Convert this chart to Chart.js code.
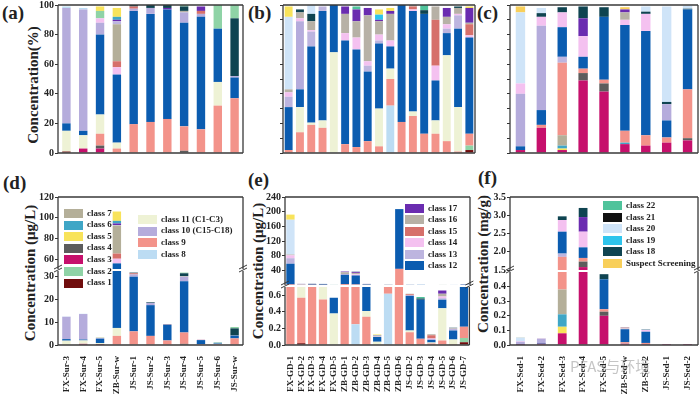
<!DOCTYPE html>
<html>
<head>
<meta charset="utf-8">
<script src="https://cdn.jsdelivr.net/npm/chart.js@4.4.1/dist/chart.umd.min.js"></script>
<style>
  body { margin: 0; width: 700px; height: 396px; position: relative; overflow: hidden; background: #fff;
         font-family: 'Liberation Serif', 'Times New Roman', serif; font-weight: bold; color: #222; }
  canvas { position: absolute; }
  .panel { position: absolute; font-size: 19px; line-height: 19px; }
  .ytitle { position: absolute; white-space: nowrap; font-size: 15px; line-height: 15px; transform: translate(-50%, -50%) rotate(-90deg); }
  .leg { position: absolute; font-size: 9px; white-space: nowrap; }
  .leg i { display: inline-block; width: 19px; height: 9px; margin-right: 4px; vertical-align: middle; }
  .leg span { vertical-align: middle; }
  .mark { position: absolute; font-family: 'Noto Sans CJK SC', sans-serif; font-weight: normal; font-size: 15px; color: rgba(150,150,150,0.55); }
</style>
</head>
<body>
<div class="panel" style="left:2px;top:3px">(a)</div>
<div class="panel" style="left:248px;top:3px">(b)</div>
<div class="panel" style="left:477px;top:3px">(c)</div>
<div class="panel" style="left:3px;top:173px">(d)</div>
<div class="panel" style="left:248px;top:170px">(e)</div>
<div class="panel" style="left:478px;top:168px">(f)</div>
<div class="ytitle" style="left:33px;top:85px">Concentration(%)</div>
<div class="ytitle" style="left:30px;top:273px">Concentration (μg/L)</div>
<div class="ytitle" style="left:258px;top:271px">Concentration (μg/L)</div>
<div class="ytitle" style="left:483px;top:264px">Concentration (mg/g)</div>
<script>
// sample names
const surSamples = ['FX-Sur-3', 'FX-Sur-4', 'FX-Sur-5', 'ZB-Sur-w', 'JS-Sur-1', 'JS-Sur-2', 'JS-Sur-3', 'JS-Sur-4', 'JS-Sur-5', 'JS-Sur-6', 'JS-Sur-w'];
const gdSamples = ['FX-GD-1', 'FX-GD-2', 'FX-GD-3', 'FX-GD-4', 'FX-GD-5', 'ZB-GD-1', 'ZB-GD-2', 'ZB-GD-3', 'ZB-GD-4', 'ZB-GD-5', 'ZB-GD-6', 'JS-GD-2', 'JS-GD-3', 'JS-GD-4', 'JS-GD-5', 'JS-GD-6', 'JS-GD-7'];
const sedSamples = ['FX-Sed-1', 'FX-Sed-2', 'FX-Sed-3', 'FX-Sed-4', 'FX-Sed-5', 'ZB-Sed-w', 'ZB-Sed-2', 'JS-Sed-1', 'JS-Sed-2'];

// stacking order (bottom -> top), rows of the tables below follow it
const surOrder = ['class 1', 'class 3', 'class 4', 'class 9', 'class 11', 'class 12', 'class 10', 'class 14', 'class 15', 'class 7', 'class 13', 'class 16', 'class 17', 'class 18', 'class 6', 'class 2', 'class 5', 'class 8'];
const gdOrder = ['class 1', 'class 2', 'class 8', 'class 9', 'class 11', 'class 12', 'class 10', 'class 13', 'class 14', 'class 15', 'class 16', 'class 18', 'class 20', 'class 17', 'class 19', 'class 5', 'class 22'];
const sedOrder = ['class 3', 'class 4', 'class 5', 'class 6', 'class 7', 'class 9', 'class 13', 'class 12', 'class 10', 'class 14', 'class 16', 'class 17', 'class 18', 'class 20', 'Suspect Screening'];

// (a) surface water, %
const aPct = [
  [1, 0, 0, 0, 0, 0, 0, 0, 0, 0, 0],
  [0, 3, 3, 0, 0, 0, 0, 0, 0, 0, 0],
  [0, 0, 2, 0, 0, 0, 0, 1.5, 0, 0, 0],
  [0, 0, 8, 3, 19.5, 21, 23, 16.5, 16, 32, 37],
  [14, 9, 13, 4, 0, 0, 0, 0, 0, 16, 0],
  [5, 3, 54, 46, 76.5, 73, 74, 70, 76, 36, 14],
  [78, 82, 8, 0, 1.5, 4, 0, 7, 2, 0, 1],
  [0, 0, 3, 5, 0, 0, 0, 0, 0, 0, 0],
  [0, 0, 0, 4, 1.5, 0, 0, 0, 2, 0, 0],
  [0, 0, 0, 25, 0, 0, 0, 0, 0, 0, 0],
  [0, 0, 0, 2, 0, 0, 0, 0, 0, 0, 0],
  [0, 0, 0, 0, 0, 0, 0, 1, 0, 0, 0],
  [0, 0, 0, 1, 0, 0, 1, 0, 3, 0, 0],
  [0, 0, 0, 0, 1, 2, 2, 3, 0, 0, 39],
  [0, 0, 0, 2, 0, 0, 0, 0, 0, 0, 0],
  [0, 0, 5, 0, 0, 0, 0, 1, 0, 16, 9],
  [0, 0, 3, 6, 0, 0, 0, 0, 0, 0, 0],
  [1, 1, 0, 0, 0, 0, 0, 0, 0, 0, 0]
];
// (d) surface water, μg/L
const dConc = [
  [0, 0, 0, 0, 0, 0, 0, 0, 0, 0, 0],
  [0, 0.5, 0.1, 0, 0, 0, 0, 0, 0, 0, 0],
  [0, 0, 0.07, 0, 0, 0, 0, 0.5, 0, 0, 0],
  [0, 0, 0.25, 4, 6, 4, 2, 5, 0.35, 0.35, 2.9],
  [1.9, 1.5, 0.45, 3.5, 0, 0, 0, 0, 0, 0.2, 0],
  [0.7, 0.4, 1.9, 48.5, 24, 13.5, 6.8, 22.5, 1.8, 0.4, 1.2],
  [9.8, 11.2, 0.3, 0, 1, 1, 0, 2, 0.05, 0, 0.1],
  [0, 0, 0.1, 4.5, 0, 0, 0, 0, 0, 0, 0],
  [0, 0, 0, 5, 0.5, 0, 0, 0, 0.05, 0, 0],
  [0, 0, 0, 27, 0, 0, 0, 0, 0, 0, 0],
  [0, 0, 0, 0.5, 0, 0, 0, 0, 0, 0, 0],
  [0, 0, 0, 0, 0, 0, 0, 0.3, 0, 0, 0],
  [0, 0, 0, 1.5, 0, 0, 0.1, 0, 0.05, 0, 0],
  [0, 0, 0, 0, 0.3, 0.3, 0.15, 1.2, 0, 0, 3.1],
  [0, 0, 0, 2.5, 0, 0, 0, 0, 0, 0, 0],
  [0, 0, 0.15, 0, 0, 0, 0, 0.3, 0, 0.2, 0.6],
  [0, 0, 0.1, 9, 0, 0, 0, 0, 0, 0, 0],
  [0.1, 0.1, 0, 0, 0, 0, 0, 0, 0, 0, 0]
];
// (b) groundwater, %
const bPct = [
  [0, 0, 0, 0, 0, 0, 0, 0, 0, 0, 0, 0, 0, 0, 0, 0, 2],
  [0, 0, 0, 0, 0, 0, 0, 0, 0, 0, 0, 0, 0, 0, 0, 0, 3],
  [0, 0, 0, 0, 0, 0, 0, 0, 0, 32, 0, 0, 0, 0, 0, 0, 0],
  [2, 14, 19, 17, 0, 6, 4, 8, 4.5, 18, 21, 25, 13, 13, 8, 1, 8],
  [0, 17, 1.5, 5, 68, 0, 0, 0, 25.5, 7, 0, 3, 0, 9, 58, 30, 0],
  [29, 12, 51.5, 74, 32, 70, 66, 47, 44, 15, 79, 68, 81, 27, 15, 53, 65],
  [0, 46, 0, 0, 0, 0, 0, 0, 0, 0, 0, 0, 0, 0, 0, 0, 0],
  [7, 0, 10, 3, 0, 0, 0, 4, 2, 0, 0, 0, 0, 0, 3, 9, 0],
  [3, 2, 1, 0, 0, 5, 8, 3, 4, 4, 0, 1, 0, 10, 3, 1, 1.5],
  [0, 0, 0, 0, 0, 0, 0, 0, 0, 0, 0, 2, 0, 31, 0, 0, 7.5],
  [2, 4, 6, 0, 0, 13, 11, 31, 9, 18, 0, 1, 0, 9, 5, 4, 1],
  [0, 2, 5, 0, 0, 0, 0, 0, 0, 0, 0, 0, 2.5, 0, 0, 1, 0],
  [49, 0, 6, 0, 0, 0, 0, 0, 0, 0, 0, 0, 0, 0, 0, 0, 0],
  [0, 0, 0, 0, 0, 5, 8, 5, 1, 2, 0, 0, 0, 0, 6, 0, 10],
  [0, 0, 0, 0, 0, 0, 0, 0, 3.5, 0, 0, 0, 0, 0, 0, 0, 0],
  [7, 0, 0, 0, 0, 0, 0, 0, 3.5, 2, 0, 0, 0, 0, 0, 0, 1],
  [0, 0, 0, 0, 0, 0, 2, 0, 0, 0, 0, 0, 3.5, 0, 0, 0, 0]
];
// (e) groundwater, μg/L
const eConc = [
  [0, 0.02, 0, 0, 0, 0, 0, 0, 0, 0, 0, 0, 0, 0, 0, 0, 0.034],
  [0, 0, 0, 0, 0, 0, 0, 0, 0, 0, 0, 0, 0, 0, 0, 0, 0.05],
  [0, 0, 0, 0, 0, 0, 0.25, 0, 0, 0.62, 0, 0, 0, 0, 0, 0, 0],
  [1.5, 0.55, 0.76, 0.55, 0, 2.2, 1.3, 0.34, 0.006, 0.34, 44, 0.155, 0.075, 0.017, 0.055, 0.002, 0.136],
  [0, 0.63, 0.06, 0.15, 0.38, 0, 0, 0.07, 0.033, 0.13, 0, 0.02, 0, 0.012, 0.39, 0.063, 0],
  [56.5, 0.44, 2.06, 2.2, 0.19, 26, 24.5, 1.35, 0.057, 0.29, 163, 0.42, 0.47, 0.035, 0.1, 0.111, 1.1],
  [0, 1.66, 0, 0, 0, 0, 0, 0, 0, 0, 0, 0, 0, 0, 0, 0, 0],
  [15, 0, 0.4, 0.1, 0, 0, 0, 0.12, 0.003, 0, 0, 0, 0, 0, 0.02, 0.019, 0],
  [8, 0.07, 0.04, 0, 0, 1.8, 3, 0.09, 0.005, 0.08, 0, 0.006, 0, 0.013, 0.02, 0.002, 0.026],
  [0, 0, 0, 0, 0, 0, 0, 0, 0, 0, 0, 0.012, 0, 0.04, 0, 0, 0.13],
  [2, 0.15, 0.24, 0, 0, 4.8, 4, 0.93, 0.012, 0.34, 0, 0.006, 0, 0.012, 0.034, 0.008, 0.017],
  [0, 0.07, 0.2, 0, 0, 0, 0, 0, 0, 0, 0, 0, 0.015, 0, 0, 0.002, 0],
  [95, 0, 0.24, 0, 0, 0, 0, 0, 0, 0, 0, 0, 0, 0, 0, 0, 0],
  [0, 0, 0, 0, 0, 1.9, 3, 0.15, 0.001, 0.04, 0, 0, 0, 0, 0.04, 0, 0.17],
  [0, 0, 0, 0, 0, 0, 0, 0, 0.005, 0, 0, 0, 0, 0, 0, 0, 0],
  [14, 0, 0, 0, 0, 0, 0, 0, 0.004, 0.04, 0, 0, 0, 0, 0, 0, 0.017],
  [0, 0, 0, 0, 0, 0, 0.7, 0, 0, 0, 0, 0, 0.02, 0, 0, 0, 0]
];
// (c) sediment, %
const cPct = [
  [2, 17, 2, 49, 41.5, 6, 5, 7, 8.5],
  [0, 0, 0, 5, 5.5, 0, 0, 0, 1.5],
  [0, 0, 1, 0, 0, 0, 0, 0, 0],
  [0, 0, 2, 0, 0, 1, 0, 0, 0],
  [0, 0, 7, 0, 0, 0, 0, 0, 0],
  [0, 2, 49, 3, 2.5, 8, 7, 3.5, 33],
  [0, 0, 4, 0, 0, 0, 0, 0, 0],
  [2.5, 10, 20, 8, 42.5, 71.5, 70.5, 11.5, 54],
  [35.5, 57, 0, 0, 0, 0, 0, 11, 0],
  [7, 6, 10, 14, 0, 3.5, 11.5, 0, 0],
  [0, 0, 0, 0, 0, 5, 0, 0, 0],
  [0, 0, 0, 12, 0, 2, 0, 0, 0],
  [0, 2.5, 3.5, 8, 6.5, 0, 1.5, 1.5, 0.5],
  [48, 3.5, 0, 0, 0, 0, 3.5, 64.5, 2],
  [4, 0, 0, 0, 0, 1.5, 0, 0, 0]
];
// (f) sediment, mg/g
const fConc = [
  [0.001, 0.008, 0.08, 1.58, 0.2, 0.008, 0.006, 0.0001, 0.0001],
  [0, 0, 0, 0.15, 0.028, 0, 0, 0, 0],
  [0, 0, 0.045, 0, 0, 0, 0, 0, 0],
  [0, 0, 0.085, 0, 0, 0.001, 0, 0, 0],
  [0, 0, 0.17, 0, 0, 0, 0, 0, 0],
  [0, 0.001, 1.48, 0.1, 0.017, 0.01, 0.008, 0, 0.0004],
  [0, 0, 0.09, 0, 0, 0, 0, 0, 0],
  [0.0015, 0.005, 0.6, 0.29, 0.205, 0.089, 0.077, 0.0002, 0.0006],
  [0.02, 0.027, 0, 0, 0, 0, 0, 0.0002, 0],
  [0.004, 0.003, 0.32, 0.43, 0, 0.004, 0.012, 0, 0],
  [0, 0, 0, 0, 0, 0.006, 0, 0, 0],
  [0, 0, 0, 0.4, 0, 0.002, 0, 0, 0],
  [0, 0.001, 0.1, 0.25, 0.035, 0, 0.002, 0, 0],
  [0.026, 0.002, 0, 0, 0, 0, 0.004, 0.0007, 0],
  [0.002, 0, 0, 0, 0, 0.002, 0, 0, 0]
];

// axis ticks and ranges
const pctTicks = [0, 20, 40, 60, 80, 100];
const pctMinorTicks = [0, 10, 20, 30, 40, 50, 60, 70, 80, 90, 100];
const dLowTicks = [0, 10, 20, 30];
const dHighTicks = [60, 80, 100, 120];
const eLowTicks = [0, 0.2, 0.4, 0.6];
const eHighTicks = [40, 80, 120, 160, 200, 240];
const fLowTicks = [0, 0.1, 0.2, 0.3, 0.4];
const fHighTicks = [1.5, 2.0, 2.5, 3.0, 3.5];
const dLowRange = [0, 32.5], dHighRange = [50.6, 120];
const eLowRange = [0, 0.7], eHighRange = [0, 240];
const fLowRange = [0, 0.5], fHighRange = [1.5, 3.5];

// legends
const legendD1 = ['class 7', 'class 6', 'class 5', 'class 4', 'class 3', 'class 2', 'class 1'];
const legendD2 = ['class 11', 'class 10', 'class 9', 'class 8'];
const legendE = ['class 17', 'class 16', 'class 15', 'class 14', 'class 13', 'class 12'];
const legendF = ['class 22', 'class 21', 'class 20', 'class 19', 'class 18', 'Suspect Screening'];
const legendNames = { 'class 11': 'class 11 (C1-C3)', 'class 10': 'class 10 (C15-C18)' };

const classColors = {
  'class 1': '#700d0d', 'class 2': '#8fd3a6', 'class 3': '#c6106c', 'class 4': '#5c5c5c',
  'class 5': '#f8e35a', 'class 6': '#3fa6c6', 'class 7': '#b4af99', 'class 8': '#bcdcf3',
  'class 9': '#f3938a', 'class 10': '#b5acdc', 'class 11': '#eef2d5', 'class 12': '#0b5cb0',
  'class 13': '#bdb5df', 'class 14': '#f4c1f0', 'class 15': '#d6706b', 'class 16': '#b7b1a6',
  'class 17': '#6a2cb0', 'class 18': '#0f4451', 'class 19': '#2ec4ec', 'class 20': '#cfe4f8',
  'class 21': '#111111', 'class 22': '#4fc39b', 'Suspect Screening': '#f8cf5a'
};

Chart.defaults.font.family = "'Liberation Serif', 'Times New Roman', serif";
Chart.defaults.font.weight = 'bold';
Chart.defaults.color = '#222';

// box around the plot area, with optional axis-break marks at its top corners
Chart.register({
  id: 'frame',
  defaults: { sides: 'ltrb', brk: false },
  afterDraw(chart, args, opts) {
    const a = chart.chartArea, ctx = chart.ctx;
    ctx.save();
    ctx.strokeStyle = '#3a3a3a';
    ctx.lineWidth = 1.3;
    ctx.beginPath();
    if (opts.sides.includes('l')) { ctx.moveTo(a.left, a.top); ctx.lineTo(a.left, a.bottom); }
    if (opts.sides.includes('r')) { ctx.moveTo(a.right, a.top); ctx.lineTo(a.right, a.bottom); }
    if (opts.sides.includes('t')) { ctx.moveTo(a.left, a.top); ctx.lineTo(a.right, a.top); }
    if (opts.sides.includes('b')) { ctx.moveTo(a.left, a.bottom); ctx.lineTo(a.right, a.bottom); }
    ctx.stroke();
    if (opts.brk) {
      ctx.lineWidth = 1;
      [a.left, a.right].forEach(x => {
        ctx.beginPath();
        ctx.moveTo(x - 4, a.top + 1); ctx.lineTo(x + 4, a.top - 3);
        ctx.moveTo(x - 4, a.top - 2); ctx.lineTo(x + 4, a.top - 6);
        ctx.stroke();
      });
    }
    ctx.restore();
  }
});

function drawPanel(rect, labels, order, rows, o) {
  var W = 40, padT = 8, padR = 8;
  var H = o.xLabels ? 396 - rect.b : 0;
  var padB = o.xLabels ? 0 : 8;
  var cv = document.createElement('canvas');
  cv.width = rect.r - rect.l + W + padR;
  cv.height = rect.b - rect.t + padT + padB + H;
  cv.style.left = (rect.l - W) + 'px';
  cv.style.top = (rect.t - padT) + 'px';
  document.body.appendChild(cv);
  return new Chart(cv, {
    type: 'bar',
    data: {
      labels: labels,
      datasets: order.map((name, i) => ({
        label: name, data: rows[i], backgroundColor: classColors[name], borderWidth: 0,
        categoryPercentage: 1, barPercentage: o.bar
      }))
    },
    options: {
      responsive: false,
      animation: false,
      layout: { padding: { top: padT, right: padR, bottom: padB, left: 0 } },
      plugins: {
        legend: { display: false },
        tooltip: { enabled: false },
        frame: { sides: o.sides || 'ltrb', brk: !!o.brk }
      },
      scales: {
        x: {
          stacked: true, display: !!o.xLabels, offset: true,
          grid: { display: false }, border: { display: false },
          ticks: { autoSkip: false, minRotation: 90, maxRotation: 90, padding: 3, font: { size: 9 } },
          afterFit: s => { s.height = H; }
        },
        y: {
          stacked: true, min: o.range[0], max: o.range[1],
          border: { display: false },
          grid: { drawOnChartArea: false, drawTicks: true, tickLength: 3, color: '#333' },
          ticks: { display: !!o.showTicks, padding: 1, font: { size: 10 }, callback: o.fmt || (v => v) },
          afterBuildTicks: s => { s.ticks = o.ticks.map(v => ({ value: v })); },
          afterFit: s => { s.width = W; }
        }
      }
    }
  });
}

var oneDec = v => v.toFixed(1);

drawPanel({ l: 58, r: 243, t: 5, b: 153 }, surSamples, surOrder, aPct, { bar: 0.5, range: [0, 100], ticks: pctTicks, showTicks: true });
drawPanel({ l: 283, r: 475, t: 5, b: 153 }, gdSamples, gdOrder, bPct, { bar: 0.7, range: [0, 100], ticks: pctMinorTicks });
drawPanel({ l: 510, r: 698, t: 5, b: 153 }, sedSamples, sedOrder, cPct, { bar: 0.45, range: [0, 100], ticks: pctMinorTicks });

drawPanel({ l: 58, r: 243, t: 197, b: 269 }, surSamples, surOrder, dConc, { bar: 0.5, range: dHighRange, ticks: dHighTicks, showTicks: true, sides: 'ltr' });
drawPanel({ l: 58, r: 243, t: 271, b: 345 }, surSamples, surOrder, dConc, { bar: 0.5, range: dLowRange, ticks: dLowTicks, showTicks: true, sides: 'lrb', brk: true, xLabels: true });

drawPanel({ l: 285, r: 470, t: 197, b: 285 }, gdSamples, gdOrder, eConc, { bar: 0.76, range: eHighRange, ticks: eHighTicks, showTicks: true, sides: 'ltr' });
drawPanel({ l: 285, r: 470, t: 287, b: 345 }, gdSamples, gdOrder, eConc, { bar: 0.76, range: eLowRange, ticks: eLowTicks, showTicks: true, fmt: oneDec, sides: 'lrb', brk: true, xLabels: true });

drawPanel({ l: 510, r: 698, t: 197, b: 270 }, sedSamples, sedOrder, fConc, { bar: 0.42, range: fHighRange, ticks: fHighTicks, showTicks: true, fmt: oneDec, sides: 'ltr' });
drawPanel({ l: 510, r: 698, t: 272, b: 345 }, sedSamples, sedOrder, fConc, { bar: 0.42, range: fLowRange, ticks: fLowTicks, showTicks: true, fmt: oneDec, sides: 'lrb', brk: true, xLabels: true });

function addLegend(keys, x, y, step) {
  keys.forEach((k, i) => {
    var row = document.createElement('div');
    row.className = 'leg';
    row.style.left = x + 'px';
    row.style.top = (y + i * step) + 'px';
    row.style.height = step + 'px';
    row.style.lineHeight = step + 'px';
    row.innerHTML = '<i style="background:' + classColors[k] + '"></i><span>' + (legendNames[k] || k) + '</span>';
    document.body.appendChild(row);
  });
}
addLegend(legendD1, 64, 207.5, 11.6);
addLegend(legendD2, 138, 213.5, 11.7);
addLegend(legendE, 405, 202.5, 11.5);
addLegend(legendF, 603, 200, 11.5);
</script>
<div class="mark" style="left:570px;top:355px">PFAS与环境</div>
</body>
</html>
